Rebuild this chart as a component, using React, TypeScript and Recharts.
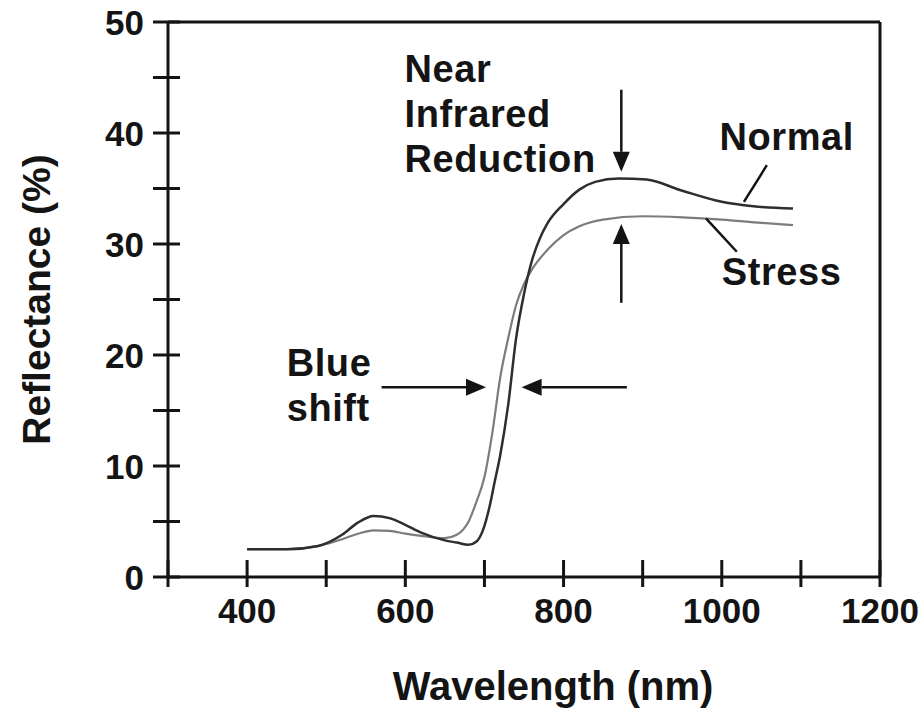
import { LineChart, Line, XAxis, YAxis, ReferenceLine, ReferenceDot } from 'recharts';

// reflectance curves (wavelength nm -> reflectance %)
const normalWavelength = [400, 450, 490, 520, 540, 560, 580, 600, 620, 650, 665, 680, 690, 698, 706, 713, 720, 730, 740, 750, 760, 770, 780, 800, 820, 840, 870, 905, 950, 1000, 1040, 1090];
const normalReflectance = [2.5, 2.5, 2.8, 3.8, 4.9, 5.5, 5.3, 4.7, 4.0, 3.3, 3.1, 2.9, 3.2, 4.2, 6.2, 8.6, 11, 15.5, 21.5, 25.5, 28.5, 30.5, 31.9, 33.6, 34.9, 35.6, 35.9, 35.8, 34.8, 33.8, 33.4, 33.2];

const stressWavelength = [400, 450, 490, 520, 540, 560, 580, 600, 620, 650, 665, 680, 690, 700, 710, 720, 730, 740, 750, 760, 780, 800, 820, 850, 900, 950, 1000, 1050, 1090];
const stressReflectance = [2.5, 2.5, 2.8, 3.4, 3.9, 4.2, 4.15, 3.9, 3.7, 3.5, 3.8, 5.0, 6.8, 9.0, 13.0, 18.0, 21.5, 24.5, 26.4, 27.7, 29.5, 30.8, 31.6, 32.2, 32.5, 32.4, 32.2, 31.9, 31.7];

const xTicks = [300, 400, 500, 600, 700, 800, 900, 1000, 1100, 1200];
const xLabeled = [400, 600, 800, 1000, 1200];
const yTicks = [0, 5, 10, 15, 20, 25, 30, 35, 40, 45, 50];
const yLabeled = [0, 10, 20, 30, 40, 50];

const normalData = normalWavelength.map((w, i) => ({ w, v: normalReflectance[i] }));
const stressData = stressWavelength.map((w, i) => ({ w, v: stressReflectance[i] }));

const FONT = '"Liberation Sans", Arial, sans-serif';
const INK = '#141414';

const XTick = (p: any) => {
  const { x, y, payload } = p;
  return (
    <g>
      <line x1={x} x2={x} y1={y - 17} y2={y + 10} stroke={INK} strokeWidth={3} />
      {xLabeled.includes(payload.value) && (
        <text x={x} y={y + 46} textAnchor="middle" fontFamily={FONT} fontWeight="bold" fontSize={35} fill={INK}>
          {payload.value}
        </text>
      )}
    </g>
  );
};

const YTick = (p: any) => {
  const { x, y, payload } = p;
  return (
    <g>
      <line x1={x - 15} x2={x + 12} y1={y} y2={y} stroke={INK} strokeWidth={3} />
      {yLabeled.includes(payload.value) && (
        <text x={x - 24} y={y + 13} textAnchor="end" fontFamily={FONT} fontWeight="bold" fontSize={35} fill={INK}>
          {payload.value}
        </text>
      )}
    </g>
  );
};

function Arrow(p: any) {
  const { x1, y1, x2, y2 } = p;
  const a = Math.atan2(y2 - y1, x2 - x1);
  const len = 20, half = 8.5;
  const bx = x2 - len * Math.cos(a), by = y2 - len * Math.sin(a);
  const nx = -Math.sin(a) * half, ny = Math.cos(a) * half;
  return (
    <g>
      <line x1={x1} y1={y1} x2={bx} y2={by} stroke={INK} strokeWidth={2.5} />
      <polygon points={`${x2},${y2} ${bx + nx},${by + ny} ${bx - nx},${by - ny}`} fill={INK} />
    </g>
  );
}

const note = (lines: string[]) => (p: any) => (
  <text x={p.cx} y={p.cy} fontFamily={FONT} fontWeight="bold" fontSize={38} letterSpacing={0.6} fill={INK}>
    {lines.map((t, i) => (
      <tspan key={t} x={p.cx} dy={i ? 45 : 0}>{t}</tspan>
    ))}
  </text>
);

export default function App() {
  return (
    <div style={{ position: 'absolute', left: 0, top: 0, width: 920, height: 708, background: '#fff' }}>
      <LineChart width={920} height={708} margin={{ top: 22, right: 40, bottom: 0, left: 0 }}>
        <XAxis
          dataKey="w"
          type="number"
          domain={[300, 1200]}
          ticks={xTicks}
          interval={0}
          height={131}
          tickSize={0}
          tickMargin={0}
          tickLine={false}
          axisLine={{ stroke: INK, strokeWidth: 3 }}
          tick={<XTick />}
          label={{
            content: (p: any) => (
              <text x={p.viewBox.x + p.viewBox.width / 2 + 29} y={p.viewBox.y + 123} textAnchor="middle"
                fontFamily={FONT} fontWeight="bold" fontSize={40} fill={INK}>
                Wavelength (nm)
              </text>
            ),
          }}
        />
        <YAxis
          type="number"
          domain={[0, 50]}
          ticks={yTicks}
          interval={0}
          width={168}
          tickSize={0}
          tickMargin={0}
          tickLine={false}
          axisLine={{ stroke: INK, strokeWidth: 3 }}
          tick={<YTick />}
          label={{
            content: (p: any) => {
              const cy = p.viewBox.y + p.viewBox.height / 2;
              return (
                <text x={36} y={cy} transform={`rotate(-90 36 ${cy})`} textAnchor="middle" dominantBaseline="central"
                  fontFamily={FONT} fontWeight="bold" fontSize={39} fill={INK}>
                  Reflectance (%)
                </text>
              );
            },
          }}
        />
        <ReferenceLine y={50} stroke={INK} strokeWidth={3} />
        <ReferenceLine x={1200} stroke={INK} strokeWidth={3} />

        <Line data={stressData} dataKey="v" type="monotone" stroke="#7c7c7c" strokeWidth={2.2} dot={false} activeDot={false} isAnimationActive={false} />
        <Line data={normalData} dataKey="v" type="monotone" stroke="#2e2e2e" strokeWidth={2.5} dot={false} activeDot={false} isAnimationActive={false} />

        {/* near infrared reduction arrows */}
        <ReferenceLine segment={[{ x: 873, y: 43.9 }, { x: 873, y: 36.5 }]} shape={Arrow} />
        <ReferenceLine segment={[{ x: 873, y: 24.7 }, { x: 873, y: 31.8 }]} shape={Arrow} />
        {/* blue shift arrows */}
        <ReferenceLine segment={[{ x: 570, y: 17.1 }, { x: 702, y: 17.1 }]} shape={Arrow} />
        <ReferenceLine segment={[{ x: 880, y: 17.1 }, { x: 747, y: 17.1 }]} shape={Arrow} />
        {/* leaders */}
        <ReferenceLine segment={[{ x: 1057, y: 37.1 }, { x: 1028, y: 33.8 }]} stroke={INK} strokeWidth={2.5} />
        <ReferenceLine segment={[{ x: 980, y: 32.3 }, { x: 1019, y: 29.3 }]} stroke={INK} strokeWidth={2.5} />

        <ReferenceDot x={599} y={44.6} r={0} shape={note(['Near', 'Infrared', 'Reduction'])} />
        <ReferenceDot x={997} y={38.5} r={0} shape={note(['Normal'])} />
        <ReferenceDot x={1000} y={26.3} r={0} shape={note(['Stress'])} />
        <ReferenceDot x={450} y={18.1} r={0} shape={note(['Blue', 'shift'])} />
      </LineChart>
    </div>
  );
}
